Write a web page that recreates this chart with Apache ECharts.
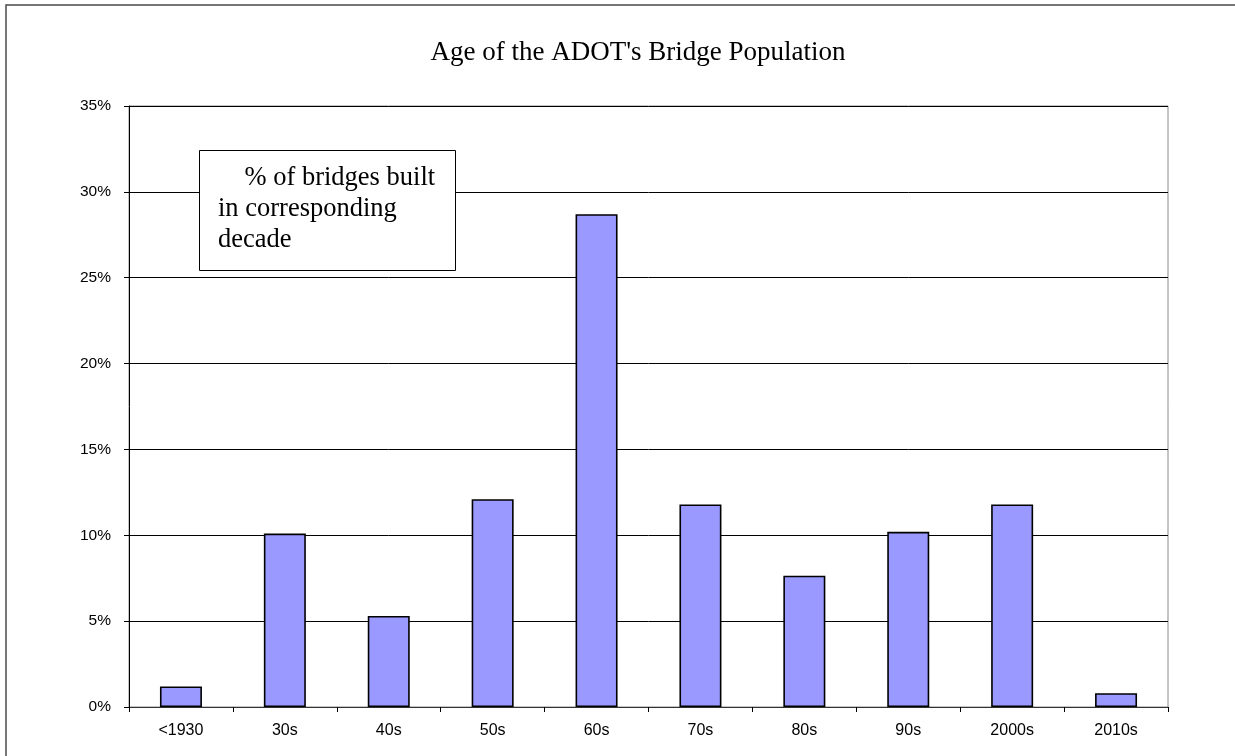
<!DOCTYPE html>
<html>
<head>
<meta charset="utf-8">
<script src="https://cdn.jsdelivr.net/npm/echarts@6/dist/echarts.min.js"></script>
<style>
  html, body { margin: 0; padding: 0; background: #fff; }
  #chart { width: 1235px; height: 756px; }
</style>
</head>
<body>
<div id="chart"></div>
<script>
(function () {
    "use strict";

    // decades and share of bridges built in each (%)
    var decades = ['<1930', '30s', '40s', '50s', '60s', '70s', '80s', '90s', '2000s', '2010s'];
    var shares = [1.2, 10.1, 5.3, 12.1, 28.7, 11.8, 7.65, 10.2, 11.8, 0.8];
    var yTicks = { min: 0, max: 35, interval: 5 };

    var myChart = echarts.init(document.getElementById('chart'));

    var option = {
        animation: false,
        backgroundColor: '#fff',
        title: {
            text: "Age of the ADOT's Bridge Population",
            left: 633,
            top: 34,
            textAlign: 'center',
            textStyle: {
                fontFamily: '"Liberation Serif", "Times New Roman", serif',
                fontWeight: 'normal',
                fontSize: 27,
                color: '#000'
            }
        },
        grid: {
            left: 129,
            right: 67,
            top: 106,
            bottom: 49,
            show: true,
            borderColor: '#8a8a8a',
            borderWidth: 1,
            backgroundColor: 'transparent'
        },
        xAxis: {
            type: 'category',
            data: decades,
            axisLine: { lineStyle: { color: '#333', width: 1 } },
            axisTick: { show: true, length: 5, lineStyle: { color: '#000' } },
            axisLabel: {
                margin: 16,
                color: '#000',
                fontFamily: 'Arial, "Liberation Sans", sans-serif',
                fontSize: 16
            }
        },
        yAxis: {
            type: 'value',
            min: yTicks.min,
            max: yTicks.max,
            interval: yTicks.interval,
            axisLine: { show: true, lineStyle: { color: '#000', width: 1 } },
            axisTick: { show: true, length: 5, lineStyle: { color: '#000' } },
            axisLabel: {
                margin: 18,
                color: '#000',
                fontFamily: 'Arial, "Liberation Sans", sans-serif',
                fontSize: 15.5,
                formatter: '{value}%'
            },
            splitLine: { show: true, lineStyle: { color: '#000', width: 1 } }
        },
        series: [
            {
                type: 'bar',
                data: shares,
                barWidth: 42,
                itemStyle: {
                    color: '#9999ff',
                    borderColor: '#000',
                    borderWidth: 1.6
                }
            }
        ],
        graphic: [
            {
                type: 'rect',
                shape: { x: 6, y: 5, width: 1300, height: 800 },
                style: { fill: 'none', stroke: '#4a4a4a', lineWidth: 1.5 },
                silent: true
            },
            {
                type: 'rect',
                shape: { x: 199.5, y: 150.5, width: 256, height: 120 },
                style: { fill: '#fff', stroke: '#000', lineWidth: 1 },
                z: 100
            },
            {
                type: 'text',
                left: 218,
                top: 163,
                z: 101,
                style: {
                    text: '    % of bridges built\nin corresponding\ndecade',
                    font: '26.5px "Liberation Serif", "Times New Roman", serif',
                    lineHeight: 31,
                    fill: '#000'
                }
            }
        ]
    };
    myChart.setOption(option, true);
})();
</script>
</body>
</html>
